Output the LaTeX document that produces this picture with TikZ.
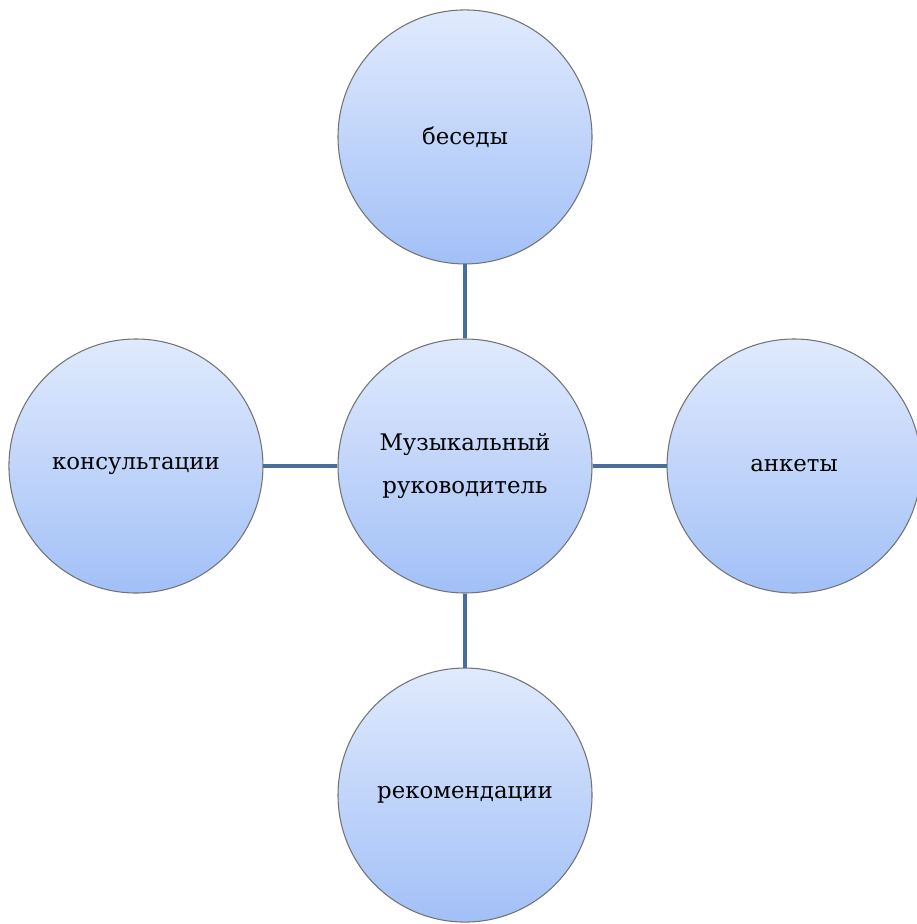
\documentclass[tikz,border=0pt]{standalone}
\usepackage{fontspec}
\setmainfont{DejaVu Serif}
\usetikzlibrary{positioning}
\definecolor{topblue}{HTML}{E0EAFD}
\definecolor{botblue}{HTML}{A2C0F7}
\definecolor{linkblue}{HTML}{4A6E9C}

\begin{document}
\begin{tikzpicture}[
	circ/.style={circle, draw=gray!90!black, semithick, minimum size=5.08cm, inner sep=0pt,
		top color=topblue, bottom color=botblue, align=center,
		font=\rmfamily\fontsize{13}{25}\selectfont},
	link/.style={draw=linkblue, line width=2.4pt},
	node distance=1.48cm
]
	\useasboundingbox (0,0) rectangle (18.34,-18.48);

	\node[circ] (mr) at (9.30,-9.32) {Музыкальный\\руководитель};
	\node[circ, above=of mr] (besedy) {беседы};
	\node[circ, left=of mr] (kons) {консультации};
	\node[circ, right=of mr] (ankety) {анкеты};
	\node[circ, below=of mr] (rekom) {рекомендации};

	\draw[link] (besedy) -- (mr);
	\draw[link] (kons) -- (mr);
	\draw[link] (mr) -- (ankety);
	\draw[link] (mr) -- (rekom);
\end{tikzpicture}
\end{document}
